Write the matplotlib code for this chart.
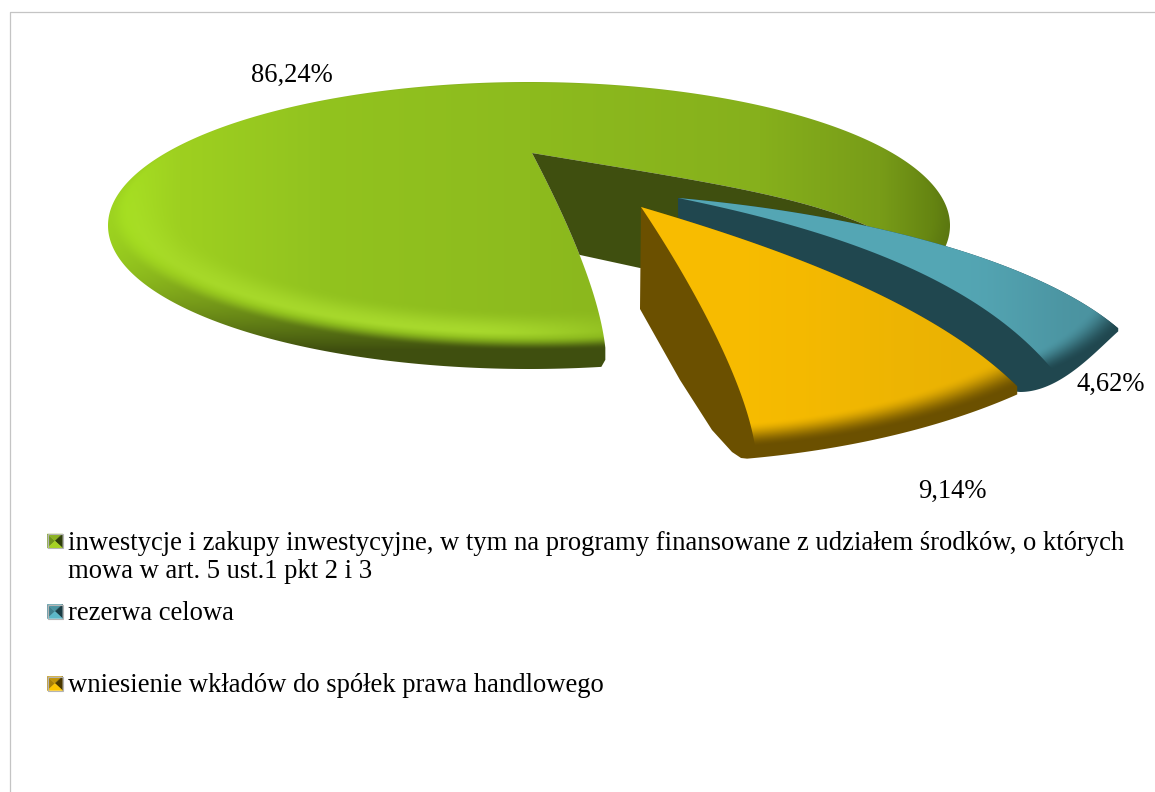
import numpy as np
import matplotlib
matplotlib.use("Agg")
import matplotlib.pyplot as plt
from matplotlib.patches import Polygon

# values
categories = ["inwestycje i zakupy inwestycyjne, w tym na programy finansowane z udziałem środków, o których\nmowa w art. 5 ust.1 pkt 2 i 3",
              "rezerwa celowa",
              "wniesienie wkładów do spółek prawa handlowego"]
shares = [86.24, 4.62, 9.14]
share_labels = ["86,24%", "4,62%", "9,14%"]

W, H = 1155, 792
plt.rcParams['font.family'] = ['Liberation Serif', 'DejaVu Serif']


def rgb(h):
    return np.array(matplotlib.colors.to_rgb(h))


def mix(c1, c2, w):
    w = np.clip(w, 0, 1)[..., None]
    return c1 * (1 - w) + c2 * w


def smooth(a, b, x):
    t = np.clip((x - a) / (b - a), 0, 1)
    return t * t * (3 - 2 * t)


def bez(p0, c1, c2, p3, n=60):
    t = np.linspace(0, 1, n)[:, None]
    p0, c1, c2, p3 = [np.array(p, float) for p in (p0, c1, c2, p3)]
    return (1 - t)**3 * p0 + 3 * (1 - t)**2 * t * c1 + 3 * (1 - t) * t**2 * c2 + t**3 * p3


xx, yy = np.meshgrid(np.arange(W) + 0.5, np.arange(H) + 0.5)

fig = plt.figure(figsize=(W / 100, H / 100), dpi=100)
ax = fig.add_axes([0, 0, 1, 1])


def paint(img, poly, z):
    im = ax.imshow(img, extent=(0, W, H, 0), aspect='auto', zorder=z, interpolation='bilinear')
    p = Polygon(poly, closed=True, transform=ax.transData, fc='none', ec='none')
    ax.add_patch(p)
    im.set_clip_path(p)


# green slice : perspective disc
ax0, ay0 = 532, 153
k = 0.47
a_g = 371.6
b_g = 104.4
th0_g = np.radians(6.2)
span_g = np.radians(360 * shares[0] / 100)


def green_rim(th):
    u, v = np.sin(th), np.cos(th)
    d = 1 - k * v
    return ax0 - 2 + a_g * u / d, ay0 + b_g * v / d


gx0, gy0 = green_rim(th0_g)
gx1, gy1 = green_rim(th0_g - span_g)
left_edge = bez((ax0, ay0), (575, 235), (600, 300), (gx0, gy0))
wall_edge = bez((ax0, ay0), (700, 181), (810, 196), (880, 232))

# outline with the depth of the slice included
ex, ey, ea, eb = 529, 225.5, 421, 143.5
phi0 = np.arcsin((gx0 - 4 - ex) / ea)
phi1 = np.arccos((gy1 + 15 - ey) / eb) - 2 * np.pi
phis = np.linspace(phi0, phi1, 500)
green_out = np.vstack([left_edge,
                       [[gx0, gy0 + 12]],
                       np.column_stack([ex + ea * np.sin(phis), ey + eb * np.cos(phis)]),
                       [[900, 250]],
                       wall_edge[::-1]])

yd = yy - ay0
xd = xx - (ax0 - 2)
v = yd / (b_g + k * yd)
u = xd * (1 - k * v) / a_g
r = np.hypot(u, v)
base = np.stack([np.interp(xx, [108, 180, 320, 530, 760, 880, 950],
                           [rgb(c)[i] for c in ('#a8e322', '#9ed020', '#92c31f', '#8dbb1e', '#86b01c', '#789c18', '#5f7d10')])
                 for i in range(3)], axis=-1)
glow = smooth(0.88, 0.95, r) * (1 - smooth(0.95, 0.975, r)) * np.clip(v, 0, 1)**2 * (1 - smooth(-0.1, 0.25, u))
green_img = mix(base, rgb('#b4e634'), 0.75 * glow)
green_img = mix(green_img, rgb('#3f4f0f'), smooth(0.965, 1.0, r) * (0.1 + 0.9 * np.clip(v, 0, 1)**7))
paint(green_img, green_out, 1)

keep = left_edge[:, 1] <= 257
wall = np.vstack([wall_edge, [[900, 250], [640, 268]], left_edge[keep][::-1]])
ax.add_patch(Polygon(wall, closed=True, fc='#3f4f0f', ec='none', zorder=2))


# exploded slices : apex, half axes, shear
def rim(apex, a, b, s, th):
    return apex[0] + a * np.sin(th) + s * np.cos(th), apex[1] + b * np.cos(th)


def rho(apex, a, b, s):
    Y = (yy - apex[1]) / b
    X = (xx - apex[0] - s * Y) / a
    return np.hypot(X, Y)


# teal
ap_t = (678, 198)
a_t, b_t, s_t = 447, 210, 144.6
th_t = np.radians(35) + np.linspace(0, np.radians(360 * shares[1] / 100), 60)
tx, ty = rim(ap_t, a_t, b_t, s_t, th_t)
low_t = bez(ap_t, (810, 225), (970, 270), (tx[0], ty[0]))
up_t = bez(ap_t, (870, 215), (1040, 262), (tx[-1], ty[-1]))
under_t = bez((tx[-1], ty[-1] + 3), (1095, 352), (1060, 392), (1020, 392))
teal_out = np.vstack([up_t, under_t, [[900, 380], [678, 217]]])
ax.add_patch(Polygon(teal_out, closed=True, fc='#20474f', ec='none', zorder=3))
R = rho(ap_t, a_t, b_t, s_t)
teal_base = mix(np.broadcast_to(rgb('#54a6b4'), xx.shape + (3,)), rgb('#4b93a0'), smooth(950, 1100, xx))
teal_img = mix(teal_base, rgb('#20474f'), smooth(0.92, 1.0, R))
paint(teal_img, np.vstack([up_t, np.column_stack([tx, ty])[::-1], low_t[::-1]]), 4)

# yellow
ap_y = (641, 207)
a_y, b_y, s_y = 528, 243, 27.3
th_y = np.radians(9.5) + np.linspace(0, np.radians(360 * shares[2] / 100), 80)
yx, yy_r = rim(ap_y, a_y, b_y, s_y, th_y)
left_y = bez(ap_y, (690, 280), (745, 380), (yx[0], yy_r[0]))
up_y = bez(ap_y, (770, 245), (930, 300), (yx[-1], yy_r[-1]))
f = np.linspace(0, 1, len(yx))
under_y = np.column_stack([yx - 8 * (1 - f), yy_r + 12 - 4 * f])
yellow_out = np.vstack([[ap_y, (640, 309), (680, 380), (712, 430), (732, 452), (741, 458)],
                        under_y, [[yx[-1], yy_r[-1]]], up_y[::-1]])
ax.add_patch(Polygon(yellow_out, closed=True, fc='#6b5000', ec='none', zorder=5))
R = rho(ap_y, a_y, b_y, s_y)
yellow_base = mix(np.broadcast_to(rgb('#f8bc00'), xx.shape + (3,)), rgb('#eab203'), smooth(700, 1000, xx))
yellow_img = mix(yellow_base, rgb('#6b5000'), smooth(0.90, 1.0, R))
paint(yellow_img, np.vstack([left_y, np.column_stack([yx, yy_r]), up_y[::-1]]), 6)

# labels
fs = 19.2
ax.text(292, 75, share_labels[0], fontsize=fs, ha='center', va='center', zorder=10)
ax.text(1111, 384, share_labels[1], fontsize=fs, ha='center', va='center', zorder=10)
ax.text(952, 491, share_labels[2], fontsize=fs, ha='center', va='center', zorder=10)

# legend
leg_y = [541, 611.5, 683.5]
leg_cols = [('#6f921c', '#8cb322', '#2f3f0c', '#a6d222'),
            ('#3f7f8c', '#4a94a2', '#1a3d45', '#5cb8c8'),
            ('#a87f06', '#c29406', '#4a3800', '#fcc400')]
for y, cols in zip(leg_y, leg_cols):
    x0, x1, y0, y1 = 47.5, 62.5, y - 7, y + 7
    c = ((x0 + x1) / 2, y)
    for tri, col in zip([[(x0, y0), c, (x0, y1)], [(x0, y0), (x1, y0), c],
                         [(x1, y0), (x1, y1), c], [(x0, y1), c, (x1, y1)]], cols):
        ax.add_patch(Polygon(tri, closed=True, fc=col, ec=col, lw=0.3, zorder=8))
    ax.add_patch(Polygon([(x0, y0), (x1, y0), (x1, y1), (x0, y1)], closed=True, fc='none', ec='#b4b4b4', lw=0.8, zorder=9))

ax.text(68, 544, categories[0].split("\n")[0], fontsize=fs, va='center', zorder=10)
ax.text(68, 572, categories[0].split("\n")[1], fontsize=fs, va='center', zorder=10)
ax.text(68, 614, categories[1], fontsize=fs, va='center', zorder=10)
ax.text(68, 685, categories[2], fontsize=fs, va='center', zorder=10)

# frame
ax.plot([9.5, 9.5, W], [H, 11.5, 11.5], color='#c4c4c4', lw=0.9, zorder=0)

ax.set_xlim(0, W)
ax.set_ylim(H, 0)
ax.axis('off')
fig.savefig("out.png", dpi=100, facecolor='white')
